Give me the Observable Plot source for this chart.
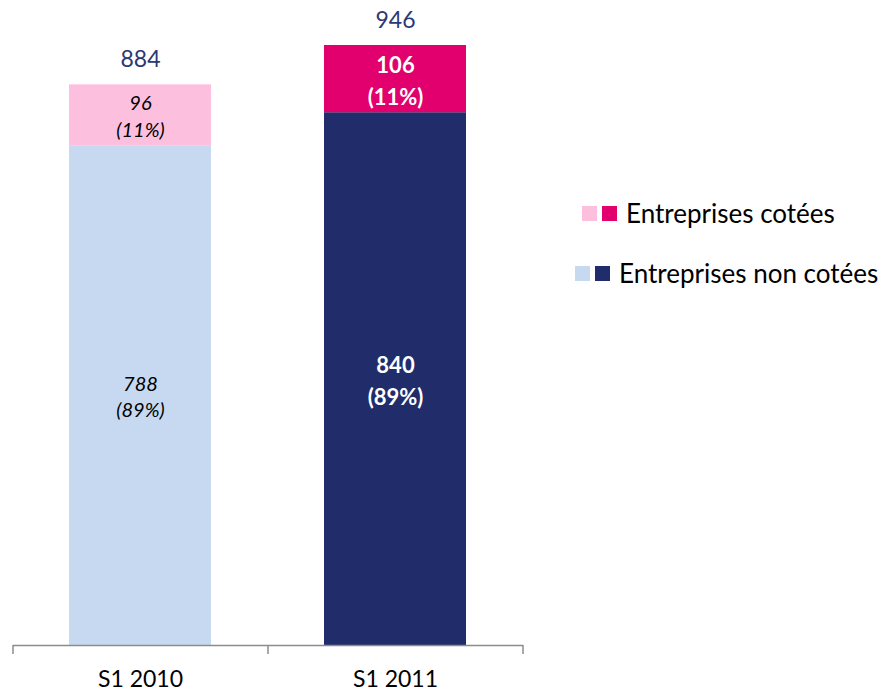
<!DOCTYPE html>
<html><head><meta charset="utf-8">
<script src="https://cdn.jsdelivr.net/npm/d3@7"></script>
<script src="https://cdn.jsdelivr.net/npm/@observablehq/plot@0.6"></script>
<style>
body{margin:0;background:#fff;font-family:Lato,"Open Sans",sans-serif;}
#wrap{position:relative;width:892px;height:693px;overflow:hidden;}
#chart{position:absolute;left:0;top:0;}
.lrow{position:absolute;display:flex;align-items:center;font-size:26px;color:#000;white-space:nowrap;}
.sw{width:15px;height:15px;margin-right:5px;}
.lrow span.t{margin-left:4px;}
</style></head><body>
<div id="wrap"><div id="chart"></div>
<div class="lrow" id="row1" style="left:582px;top:197px;"></div>
<div class="lrow" id="row2" style="left:575px;top:257px;"></div>
</div>
<script>
const periods = ["S1 2010", "S1 2011"];
const seriesNames = ["Entreprises non cotées", "Entreprises cotées"];
const nonCotees = [788, 840];
const cotees = [96, 106];
const pctNonCotees = ["89%", "89%"];
const pctCotees = ["11%", "11%"];
const totals = [884, 946];
const colorsNonCotees = ["#c6d9f0", "#212d6b"];
const colorsCotees = ["#fcc0de", "#e2006e"];
const totalColor = "#2b3875";

const rows = periods.flatMap((p, i) => [
  {period: p, series: seriesNames[0], value: nonCotees[i], pct: pctNonCotees[i], base: 0, fill: colorsNonCotees[i]},
  {period: p, series: seriesNames[1], value: cotees[i], pct: pctCotees[i], base: nonCotees[i], fill: colorsCotees[i]}
]);
const totalRows = periods.map((p, i) => ({period: p, total: totals[i]}));

const chart = Plot.plot({
  width: 540,
  height: 693,
  marginLeft: 13,
  marginRight: 17,
  marginTop: 45,
  marginBottom: 48,
  style: {fontFamily: "Lato, 'Open Sans', sans-serif", background: "transparent"},
  x: {domain: periods, type: "band", paddingInner: 0.443, paddingOuter: 0.2215, label: null},
  y: {domain: [0, 946], axis: null},
  marks: [
    Plot.barY(rows, {x: "period", y1: "base", y2: d => d.base + d.value, fill: "fill"}),
    Plot.ruleY([0], {stroke: "#8c8c8c", strokeWidth: 1.5}),
    Plot.axisX(periods, {tickSize: 9, tickFormat: () => "", dx: -127.5, stroke: "#8c8c8c", strokeWidth: 1.5}),
    Plot.axisX([periods[1]], {tickSize: 9, tickFormat: () => "", dx: 127.5, stroke: "#8c8c8c", strokeWidth: 1.5}),
    Plot.axisX(periods, {tickSize: 0, tickPadding: 25, fontSize: 23, fill: "#000"}),
    Plot.text(rows.filter(d => d.period === periods[0]), {
      x: "period", y: d => d.base + d.value / 2, text: d => `${d.value}\n(${d.pct})`,
      fontSize: 20, fontStyle: "italic", lineHeight: 1.33, fill: "#000"
    }),
    Plot.text(rows.filter(d => d.period === periods[1]), {
      x: "period", y: d => d.base + d.value / 2, text: d => `${d.value}\n(${d.pct})`,
      fontSize: 22, fontWeight: "bold", lineHeight: 1.43, fill: "#fff"
    }),
    Plot.text(totalRows, {x: "period", y: "total", text: d => String(d.total), dy: -25, fontSize: 23, fill: totalColor})
  ]
});
document.getElementById("chart").append(chart);

function legendRow(el, colors, label) {
  colors.forEach(c => {
    const s = document.createElement("div");
    s.className = "sw"; s.style.background = c; el.append(s);
  });
  const t = document.createElement("span");
  t.className = "t"; t.textContent = label; el.append(t);
}
legendRow(document.getElementById("row1"), colorsCotees, seriesNames[1]);
legendRow(document.getElementById("row2"), colorsNonCotees, seriesNames[0]);
</script>
</body></html>
